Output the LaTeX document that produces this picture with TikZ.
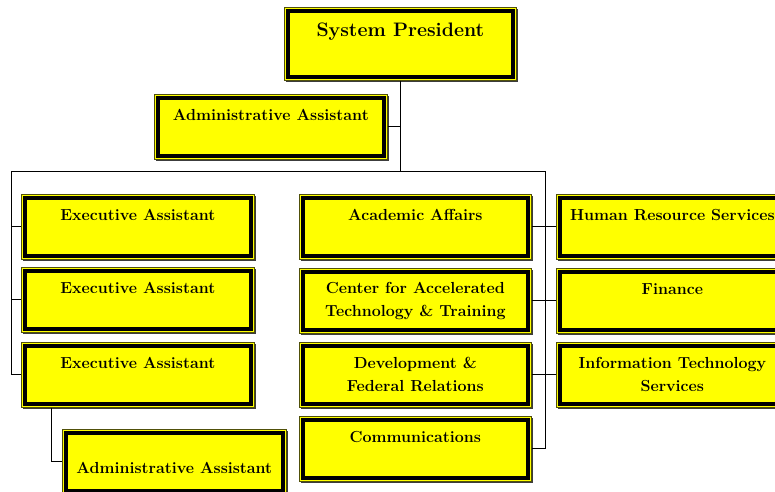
\documentclass[tikz,border=0pt]{standalone}
\usepackage{tikz}
\usetikzlibrary{shadows}
\definecolor{yel}{RGB}{255,255,0}
\definecolor{oli}{RGB}{80,80,10}
\definecolor{shad}{RGB}{60,60,60}

\tikzset{
  unit/.style={draw=oli, line width=0.7pt, fill=yel, anchor=north west,
    minimum width=232pt, minimum height=65pt, inner sep=0pt, align=center,
    font=\fontsize{16}{23}\selectfont\bfseries,
    drop shadow={shadow xshift=2pt, shadow yshift=-2pt, fill=shad, opacity=1},
    path picture={\draw[black, line width=3.6pt]
      ([shift={(3.6pt,-3.6pt)}]path picture bounding box.north west) rectangle
      ([shift={(-3.6pt,3.6pt)}]path picture bounding box.south east);}},
  link/.style={line width=0.8pt, black}
}

\begin{document}
\begin{tikzpicture}[x=1pt,y=-1pt]
\useasboundingbox (0,0) rectangle (775,491);
\clip (0,0) rectangle (775,491);

% top of the chart
\node[unit, minimum height=73pt, font=\fontsize{19.5}{28}\selectfont\bfseries] (pres) at (284,7) {System President\\\mbox{}};
\node[unit, minimum width=233pt] (adm) at (154,94) {Administrative Assistant\\\mbox{}};

% left column
\node[unit, minimum width=233pt] (exa) at (21,194) {Executive Assistant\\\mbox{}};
\node[unit, minimum width=233pt] (exb) at (21,267) {Executive Assistant\\\mbox{}};
\node[unit, minimum width=233pt] (exc) at (21,342) {Executive Assistant\\\mbox{}};
\node[unit, minimum width=224pt] (sub) at (62,429) {\mbox{}\\Administrative Assistant};

% middle column
\node[unit] (aca) at (299,194) {Academic Affairs\\\mbox{}};
\node[unit] (cat) at (299,268) {Center for Accelerated\\Technology \& Training};
\node[unit] (dev) at (299,342) {Development \&\\Federal Relations};
\node[unit] (com) at (299,416) {Communications\\\mbox{}};

% right column
\node[unit] (hrs) at (556,194) {Human Resource Services\\\mbox{}};
\node[unit] (fin) at (556,268) {Finance\\\mbox{}};
\node[unit] (its) at (556,342) {Information Technology\\Services};

% connectors
\coordinate (busl) at (11,171);
\coordinate (busr) at (545,171);
\draw[link] (pres.south) -- (pres.south |- busl);
\draw[link] (adm.east) -- (adm.east -| pres.south);
\draw[link] (busl) -- (busr);
\draw[link] (busl) -- (busl |- exc.west) -- (exc.west);
\draw[link] (exa.west -| busl) -- (exa.west);
\draw[link] (exb.west -| busl) -- (exb.west);
\draw[link] (busr) -- (busr |- com.east) -- (com.east);
\foreach \n in {aca,cat,dev}
  \draw[link] (\n.east) -- (\n.east -| busr);
\foreach \n in {hrs,fin,its}
  \draw[link] (\n.west) -- (\n.west -| busr);
\draw[link] ([xshift=30pt]exc.south west) |- (sub.west);
\end{tikzpicture}
\end{document}
